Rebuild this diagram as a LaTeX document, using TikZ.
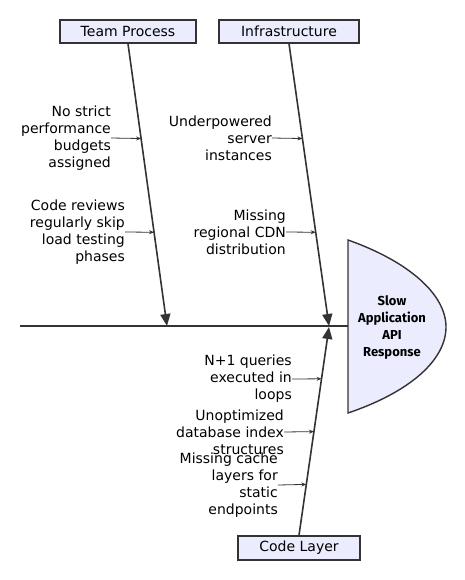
\documentclass[tikz,border=0pt]{standalone}
\usepackage{fontspec}
\setmainfont{DejaVu Sans}
\newfontfamily\headfont{Fira Sans}
\usetikzlibrary{arrows.meta,calc}
\definecolor{boxfill}{HTML}{ECECFF}
\definecolor{linec}{HTML}{333333}
\begin{document}
\begin{tikzpicture}[x=1pt,y=-1pt,
  catbox/.style={draw=linec,line width=1.6pt,fill=boxfill,minimum height=23pt,inner sep=0pt,font=\fontsize{14}{17}\selectfont},
  bone/.style={draw=linec,line width=1.6pt,-{Triangle[length=12pt,width=10pt]}},
  sublbl/.style={align=right,anchor=east,inner sep=0pt,font=\fontsize{14}{17}\selectfont},
  subarrow/.style={draw=linec,line width=0.8pt,-{Stealth[length=5pt,width=4pt]}}]
\useasboundingbox (0,0) rectangle (465,580);
% head
\fill[boxfill] (348,240) .. controls (410,262) and (446,295) .. (446,327) .. controls (446,360) and (410,392) .. (348,413) -- cycle;
\draw[linec,line width=1.4pt] (348,240) .. controls (410,262) and (446,295) .. (446,327) .. controls (446,360) and (410,392) .. (348,413) -- cycle;
\node[align=center,inner sep=0pt,font=\headfont\fontsize{13}{17}\selectfont\bfseries] (head) at (392,328) {Slow\\Application\\API\\Response};
\coordinate (headw) at (348,326);
\coordinate (tail) at (20,326);
% spine
\draw[linec,line width=1.6pt] (tail) -- (headw);
% categories
\node[catbox,minimum width=136pt] (tp) at (128,31.5) {Team Process};
\node[catbox,minimum width=140pt] (inf) at (289,31.5) {Infrastructure};
\node[catbox,minimum width=122pt,minimum height=24pt] (code) at (299,548) {Code Layer};
\coordinate (j1) at (167,326);
\coordinate (j2) at (329,326);
\coordinate (j3) at (329,327);
\draw[bone] (tp.south) -- (j1);
\draw[bone] (inf.south) -- (j2);
\draw[bone] (code.north) -- (j3);
% points on bones
\coordinate (p1) at ($(tp.south)!{(138-43)/283}!(j1)$);
\coordinate (p2) at ($(tp.south)!{(232-43)/283}!(j1)$);
\coordinate (p3) at ($(inf.south)!{(138-43)/283}!(j2)$);
\coordinate (p4) at ($(inf.south)!{(232-43)/283}!(j2)$);
\coordinate (p5) at ($(code.north)!{(536-379)/209}!(j3)$);
\coordinate (p6) at ($(code.north)!{(536-432)/209}!(j3)$);
\coordinate (p7) at ($(code.north)!{(536-485)/209}!(j3)$);
% sub-causes
\node[sublbl] (s1) at (111,138) {No strict\\performance\\budgets\\assigned};
\node[sublbl] (s2) at (125,232) {Code reviews\\regularly skip\\load testing\\phases};
\node[sublbl] (s3) at (272,138) {Underpowered\\server\\instances};
\node[sublbl] (s4) at (286,232) {Missing\\regional CDN\\distribution};
\node[sublbl] (s5) at (292,379) {N+1 queries\\executed in\\loops};
\node[sublbl] (s6) at (284,432) {Unoptimized\\database index\\structures};
\node[sublbl] (s7) at (278,485) {Missing cache\\layers for\\static\\endpoints};
\draw[subarrow] (s1.east) -- (p1);
\draw[subarrow] (s2.east) -- (p2);
\draw[subarrow] (s3.east) -- (p3);
\draw[subarrow] (s4.east) -- (p4);
\draw[subarrow] (s5.east) -- (p5);
\draw[subarrow] (s6.east) -- (p6);
\draw[subarrow] (s7.east) -- (p7);
\end{tikzpicture}
\end{document}
